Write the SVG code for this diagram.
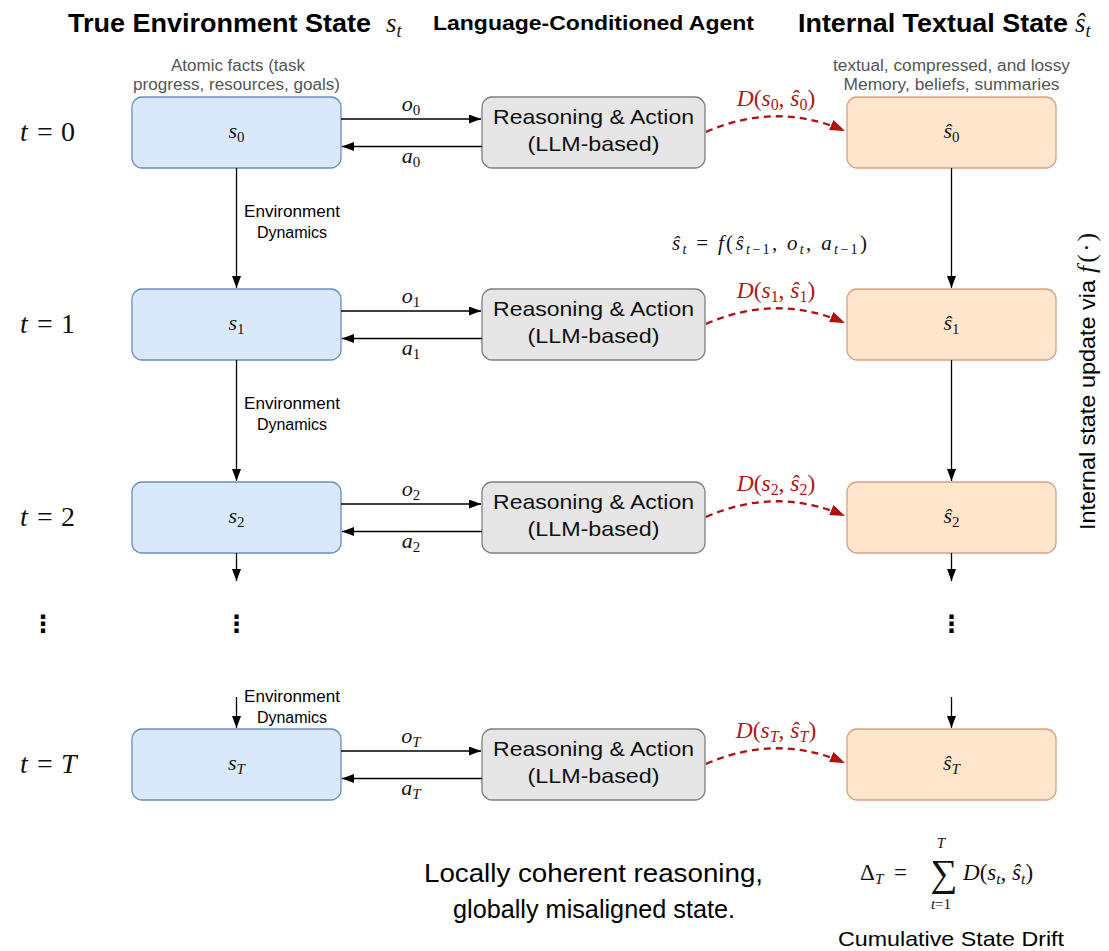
<svg xmlns="http://www.w3.org/2000/svg" width="1109" height="951" viewBox="0 0 1109 951">
  <style>
    .sans { font-family: "Liberation Sans", Arial, sans-serif; }
    .hdr { font-family: "Liberation Sans", Arial, sans-serif; font-weight: bold; fill: #000; }
    .note { font-family: "Liberation Sans", Arial, sans-serif; font-size: 16px; fill: #555; text-anchor: middle; }
    .dyn { font-family: "Liberation Sans", Arial, sans-serif; font-size: 16px; fill: #000; text-anchor: middle; }
    .agent { font-family: "Liberation Sans", Arial, sans-serif; font-size: 21px; fill: #111; text-anchor: middle; }
    .m { font-family: "Liberation Serif", "Times New Roman", serif; fill: #111; }
    .i { font-style: italic; }
    .sub { font-size: 0.68em; font-style: normal; }
    .subi { font-size: 0.68em; font-style: italic; }
    .red { fill: #b01818; }
    .env { fill: #dae8fc; stroke: #6c8ebf; stroke-width: 1.3; }
    .llm { fill: #e6e6e6; stroke: #808080; stroke-width: 1.3; }
    .mem { fill: #ffe6cc; stroke: #dc9f80; stroke-width: 1.3; }
    .edge { fill: none; stroke: #000; stroke-width: 1.3; marker-end: url(#ah); }
    .drift { fill: none; stroke: #b20e0e; stroke-width: 2.3; stroke-dasharray: 7 5; marker-end: url(#ahr); }
    .dots { font-family: "DejaVu Sans", sans-serif; font-weight: bold; font-size: 24px; text-anchor: middle; fill: #000; }
  </style>
  <defs>
    <marker id="ah" markerUnits="userSpaceOnUse" markerWidth="12" markerHeight="9" refX="12" refY="4.5" orient="auto">
      <path d="M0,0 L12,4.5 L0,9 z" fill="#000"/>
    </marker>
    <marker id="ahr" markerUnits="userSpaceOnUse" markerWidth="15" markerHeight="11" refX="15" refY="5.5" orient="auto">
      <path d="M0,0 L15,5.5 L0,11 z" fill="#b20e0e"/>
    </marker>
  </defs>

  <rect width="1109" height="951" fill="#fff"/>

  <!-- column headers -->
  <g id="headers">
    <text class="hdr" x="68" y="32" font-size="26" textLength="303" lengthAdjust="spacingAndGlyphs">True Environment State</text>
    <text class="m" x="386" y="32" font-size="27"><tspan class="i">s</tspan><tspan class="subi" dy="5">t</tspan></text>
    <text class="hdr" x="593.5" y="30" font-size="21" text-anchor="middle" textLength="321" lengthAdjust="spacingAndGlyphs">Language-Conditioned Agent</text>
    <text class="hdr" x="798" y="32" font-size="26" textLength="270" lengthAdjust="spacingAndGlyphs">Internal Textual State</text>
    <text class="m" x="1075" y="32" font-size="27"><tspan class="i">ŝ</tspan><tspan class="subi" dy="5">t</tspan></text>
  </g>

  <g id="notes">
    <text class="note" x="238" y="71" textLength="134" lengthAdjust="spacingAndGlyphs">Atomic facts (task</text>
    <text class="note" x="236.5" y="90" textLength="207" lengthAdjust="spacingAndGlyphs">progress, resources, goals)</text>
    <text class="note" x="951.5" y="71" textLength="237" lengthAdjust="spacingAndGlyphs">textual, compressed, and lossy</text>
    <text class="note" x="951.5" y="90" textLength="216" lengthAdjust="spacingAndGlyphs">Memory, beliefs, summaries</text>
  </g>

  <!-- time step labels -->
  <g id="time-labels" class="m" font-size="28">
    <text y="141"><tspan class="i" x="20">t</tspan><tspan x="37">=</tspan><tspan x="61">0</tspan></text>
    <text y="333"><tspan class="i" x="20">t</tspan><tspan x="37">=</tspan><tspan x="61">1</tspan></text>
    <text y="526"><tspan class="i" x="20">t</tspan><tspan x="37">=</tspan><tspan x="61">2</tspan></text>
    <text y="773"><tspan class="i" x="20">t</tspan><tspan x="37">=</tspan><tspan class="i" x="61">T</tspan></text>
  </g>

  <!-- true environment states -->
  <g id="s0"><rect class="env" x="132" y="97" width="209" height="71" rx="10"/>
    <text class="m" x="236.5" y="138" font-size="22" text-anchor="middle"><tspan class="i">s</tspan><tspan class="sub" dy="4">0</tspan></text></g>
  <g id="s1"><rect class="env" x="132" y="289" width="209" height="71" rx="10"/>
    <text class="m" x="236.5" y="330" font-size="22" text-anchor="middle"><tspan class="i">s</tspan><tspan class="sub" dy="4">1</tspan></text></g>
  <g id="s2"><rect class="env" x="132" y="482" width="209" height="71" rx="10"/>
    <text class="m" x="236.5" y="523" font-size="22" text-anchor="middle"><tspan class="i">s</tspan><tspan class="sub" dy="4">2</tspan></text></g>
  <g id="sT"><rect class="env" x="132" y="729" width="209" height="71" rx="10"/>
    <text class="m" x="236.5" y="770" font-size="22" text-anchor="middle"><tspan class="i">s</tspan><tspan class="subi" dy="4">T</tspan></text></g>

  <!-- agent -->
  <g id="agent0"><rect class="llm" x="482" y="97" width="223" height="71" rx="10"/>
    <text class="agent" x="593.5" y="124" textLength="201" lengthAdjust="spacingAndGlyphs">Reasoning &amp; Action</text>
    <text class="agent" x="593.5" y="151" textLength="132" lengthAdjust="spacingAndGlyphs">(LLM-based)</text></g>
  <g id="agent1"><rect class="llm" x="482" y="289" width="223" height="71" rx="10"/>
    <text class="agent" x="593.5" y="316" textLength="201" lengthAdjust="spacingAndGlyphs">Reasoning &amp; Action</text>
    <text class="agent" x="593.5" y="343" textLength="132" lengthAdjust="spacingAndGlyphs">(LLM-based)</text></g>
  <g id="agent2"><rect class="llm" x="482" y="482" width="223" height="71" rx="10"/>
    <text class="agent" x="593.5" y="509" textLength="201" lengthAdjust="spacingAndGlyphs">Reasoning &amp; Action</text>
    <text class="agent" x="593.5" y="536" textLength="132" lengthAdjust="spacingAndGlyphs">(LLM-based)</text></g>
  <g id="agentT"><rect class="llm" x="482" y="729" width="223" height="71" rx="10"/>
    <text class="agent" x="593.5" y="756" textLength="201" lengthAdjust="spacingAndGlyphs">Reasoning &amp; Action</text>
    <text class="agent" x="593.5" y="783" textLength="132" lengthAdjust="spacingAndGlyphs">(LLM-based)</text></g>

  <!-- internal textual states -->
  <g id="h0"><rect class="mem" x="847" y="97" width="209" height="71" rx="10"/>
    <text class="m" x="951.5" y="138" font-size="22" text-anchor="middle"><tspan class="i">ŝ</tspan><tspan class="sub" dy="4">0</tspan></text></g>
  <g id="h1"><rect class="mem" x="847" y="289" width="209" height="71" rx="10"/>
    <text class="m" x="951.5" y="330" font-size="22" text-anchor="middle"><tspan class="i">ŝ</tspan><tspan class="sub" dy="4">1</tspan></text></g>
  <g id="h2"><rect class="mem" x="847" y="482" width="209" height="71" rx="10"/>
    <text class="m" x="951.5" y="523" font-size="22" text-anchor="middle"><tspan class="i">ŝ</tspan><tspan class="sub" dy="4">2</tspan></text></g>
  <g id="hT"><rect class="mem" x="847" y="729" width="209" height="71" rx="10"/>
    <text class="m" x="951.5" y="770" font-size="22" text-anchor="middle"><tspan class="i">ŝ</tspan><tspan class="subi" dy="4">T</tspan></text></g>

  <!-- connectors -->
  <g id="connectors">
    <!-- observations and actions -->
    <path class="edge" d="M341,119 H481"/>
    <path class="edge" d="M482,146.5 H342"/>
    <path class="edge" d="M341,311 H481"/>
    <path class="edge" d="M482,338.5 H342"/>
    <path class="edge" d="M341,504 H481"/>
    <path class="edge" d="M482,531.5 H342"/>
    <path class="edge" d="M341,751 H481"/>
    <path class="edge" d="M482,778.5 H342"/>
    <!-- environment dynamics -->
    <path class="edge" d="M236.5,168 V288"/>
    <path class="edge" d="M236.5,360 V481"/>
    <path class="edge" d="M236.5,553 V581"/>
    <path class="edge" d="M236.5,697 V728"/>
    <!-- internal state updates -->
    <path class="edge" d="M951.5,168 V288"/>
    <path class="edge" d="M951.5,360 V481"/>
    <path class="edge" d="M951.5,553 V581"/>
    <path class="edge" d="M951.5,697 V728"/>
    <!-- drift between agent belief and internal state -->
    <path class="drift" d="M706,132 Q776,101 845,131"/>
    <path class="drift" d="M706,324 Q776,293 845,323"/>
    <path class="drift" d="M706,517 Q776,486 845,516"/>
    <path class="drift" d="M706,764 Q776,733 845,763"/>
  </g>

  <!-- edge labels -->
  <g id="edge-labels" class="m" font-size="22" text-anchor="middle">
    <text x="411" y="111"><tspan class="i">o</tspan><tspan class="sub" dy="4">0</tspan></text>
    <text x="411" y="163"><tspan class="i">a</tspan><tspan class="sub" dy="4">0</tspan></text>
    <text x="411" y="303"><tspan class="i">o</tspan><tspan class="sub" dy="4">1</tspan></text>
    <text x="411" y="355"><tspan class="i">a</tspan><tspan class="sub" dy="4">1</tspan></text>
    <text x="411" y="496"><tspan class="i">o</tspan><tspan class="sub" dy="4">2</tspan></text>
    <text x="411" y="548"><tspan class="i">a</tspan><tspan class="sub" dy="4">2</tspan></text>
    <text x="411" y="743"><tspan class="i">o</tspan><tspan class="subi" dy="4">T</tspan></text>
    <text x="411" y="795"><tspan class="i">a</tspan><tspan class="subi" dy="4">T</tspan></text>
  </g>

  <g id="dynamics-labels">
    <text class="dyn" x="292" y="217" textLength="96" lengthAdjust="spacingAndGlyphs">Environment</text>
    <text class="dyn" x="292" y="238">Dynamics</text>
    <text class="dyn" x="292" y="409" textLength="96" lengthAdjust="spacingAndGlyphs">Environment</text>
    <text class="dyn" x="292" y="430">Dynamics</text>
    <text class="dyn" x="292" y="702" textLength="96" lengthAdjust="spacingAndGlyphs">Environment</text>
    <text class="dyn" x="292" y="723">Dynamics</text>
  </g>

  <!-- drift labels -->
  <g id="drift-labels" class="m red" font-size="23.5" text-anchor="middle">
    <text x="776" y="106"><tspan class="i">D</tspan>(<tspan class="i">s</tspan><tspan class="sub" dy="4">0</tspan><tspan dy="-4">, </tspan><tspan class="i">ŝ</tspan><tspan class="sub" dy="4">0</tspan><tspan dy="-4">)</tspan></text>
    <text x="776" y="298"><tspan class="i">D</tspan>(<tspan class="i">s</tspan><tspan class="sub" dy="4">1</tspan><tspan dy="-4">, </tspan><tspan class="i">ŝ</tspan><tspan class="sub" dy="4">1</tspan><tspan dy="-4">)</tspan></text>
    <text x="776" y="491"><tspan class="i">D</tspan>(<tspan class="i">s</tspan><tspan class="sub" dy="4">2</tspan><tspan dy="-4">, </tspan><tspan class="i">ŝ</tspan><tspan class="sub" dy="4">2</tspan><tspan dy="-4">)</tspan></text>
    <text x="776" y="738"><tspan class="i">D</tspan>(<tspan class="i">s</tspan><tspan class="subi" dy="4">T</tspan><tspan dy="-4">, </tspan><tspan class="i">ŝ</tspan><tspan class="subi" dy="4">T</tspan><tspan dy="-4">)</tspan></text>
  </g>

  <!-- update rule -->
  <g id="update-rule">
    <text class="m" x="672" y="250" font-size="21" textLength="195" lengthAdjust="spacing"><tspan class="i">ŝ</tspan><tspan class="subi" dy="4">t</tspan><tspan dy="-4"> = </tspan><tspan class="i">f</tspan>(<tspan class="i">ŝ</tspan><tspan class="subi" dy="4">t</tspan><tspan class="sub">−1</tspan><tspan dy="-4">, </tspan><tspan class="i">o</tspan><tspan class="subi" dy="4">t</tspan><tspan dy="-4">, </tspan><tspan class="i">a</tspan><tspan class="subi" dy="4">t</tspan><tspan class="sub">−1</tspan><tspan dy="-4">)</tspan></text>
    <text transform="translate(1095,530) rotate(-90)" class="sans" font-size="21.5" fill="#000"><tspan textLength="250" lengthAdjust="spacingAndGlyphs">Internal state update via</tspan><tspan class="m" font-size="26"><tspan class="i" dx="7">f</tspan><tspan dx="3">(</tspan><tspan dx="2">·</tspan><tspan dx="2">)</tspan></tspan></text>
  </g>

  <!-- continuation dots -->
  <g id="ellipses">
    <text class="dots" x="43" y="632">⋮</text>
    <text class="dots" x="236.5" y="632">⋮</text>
    <text class="dots" x="951.5" y="632">⋮</text>
  </g>

  <!-- summary -->
  <g id="summary">
    <text class="sans" x="593.5" y="882" font-size="26" text-anchor="middle" fill="#000" textLength="339" lengthAdjust="spacingAndGlyphs">Locally coherent reasoning,</text>
    <text class="sans" x="594" y="918" font-size="26" text-anchor="middle" fill="#000" textLength="282" lengthAdjust="spacingAndGlyphs">globally misaligned state.</text>
  </g>

  <g id="cumulative-drift">
    <text class="m" x="860" y="880" font-size="23">Δ<tspan class="subi" dy="4">T</tspan><tspan dy="-4" x="894">=</tspan></text>
    <text class="m" x="944" y="886" font-size="38" text-anchor="middle">∑</text>
    <text class="m" x="941" y="848" font-size="15" text-anchor="middle"><tspan class="i">T</tspan></text>
    <text class="m" x="941" y="909" font-size="15" text-anchor="middle"><tspan class="i">t</tspan>=1</text>
    <text class="m" x="963" y="880" font-size="23"><tspan class="i">D</tspan>(<tspan class="i">s</tspan><tspan class="subi" dy="4">t</tspan><tspan dy="-4">, </tspan><tspan class="i">ŝ</tspan><tspan class="subi" dy="4">t</tspan><tspan dy="-4">)</tspan></text>
    <text class="sans" x="951" y="946" font-size="21" text-anchor="middle" fill="#000" textLength="226" lengthAdjust="spacingAndGlyphs">Cumulative State Drift</text>
  </g>
</svg>
